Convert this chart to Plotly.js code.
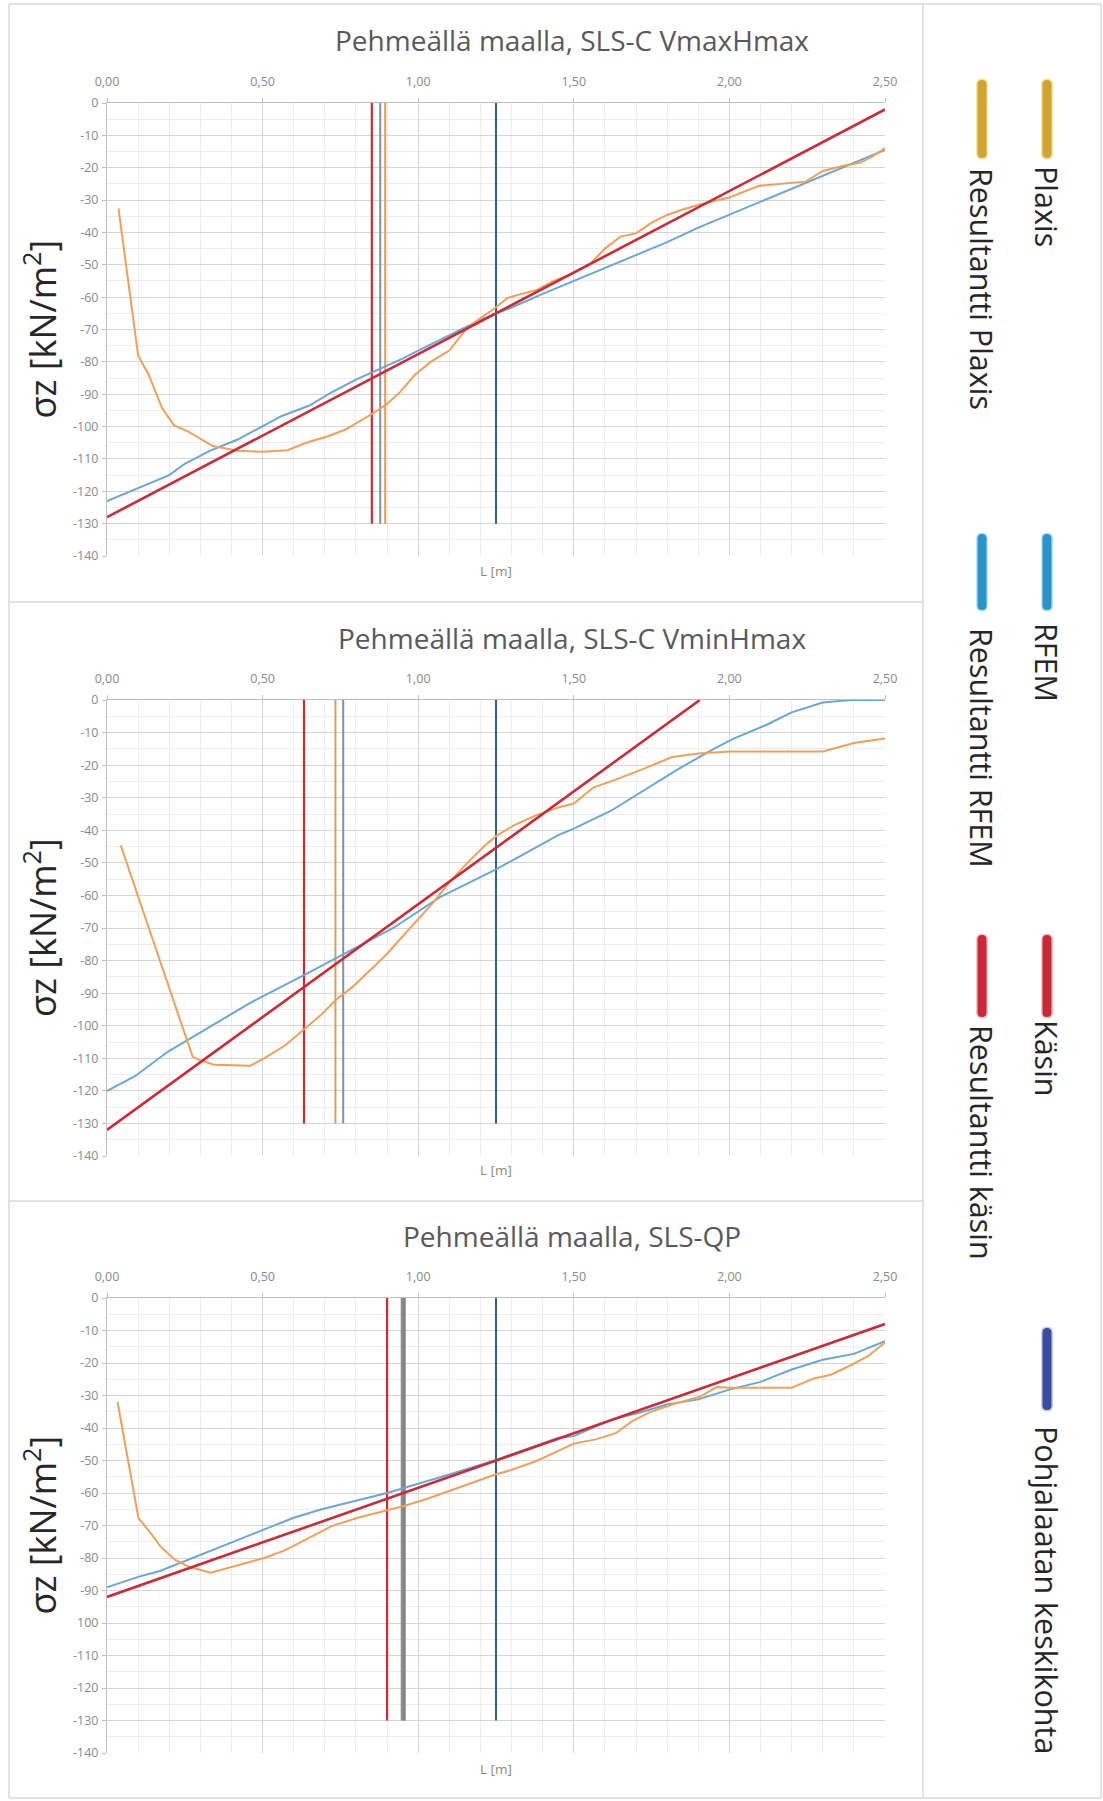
<!DOCTYPE html>
<html><head><meta charset="utf-8">
<script src="https://cdn.plot.ly/plotly-3.0.1.min.js"></script>
<style>html,body{margin:0;padding:0;background:#fff;} #chart{width:1103px;height:1801px;}</style>
</head><body><div id="chart"></div>
<script>
// ---------------- DATA ----------------
const chartTitles = ["Pehmeällä maalla, SLS-C VmaxHmax", "Pehmeällä maalla, SLS-C VminHmax", "Pehmeällä maalla, SLS-QP"];
const xAxisTitle = "L [m]";
const yAxisTitle = "σz [kN/m<sup>2</sup>]";
const xTickVals = [0, 0.5, 1, 1.5, 2, 2.5];
const xTickText = ["0,00", "0,50", "1,00", "1,50", "2,00", "2,50"];
const yTickVals = [0, -10, -20, -30, -40, -50, -60, -70, -80, -90, -100, -110, -120, -130, -140];
const yTickTextA = ["0", "-10", "-20", "-30", "-40", "-50", "-60", "-70", "-80", "-90", "-100", "-110", "-120", "-130", "-140"];
const yTickTextC = ["0", "-10", "-20", "-30", "-40", "-50", "-60", "-70", "-80", "-90", "100", "-110", "-120", "-130", "-140"];

// Chart 1: SLS-C VmaxHmax
const plaxisX1 = [0.037,0.10,0.134,0.177,0.215,0.26,0.34,0.42,0.50,0.58,0.64,0.71,0.765,0.81,0.857,0.90,0.94,0.99,1.04,1.10,1.157,1.20,1.245,1.286,1.32,1.38,1.43,1.50,1.55,1.60,1.65,1.70,1.75,1.80,1.85,1.92,2.0,2.095,2.16,2.245,2.30,2.37,2.42,2.46,2.5];
const plaxisY1 = [-32.6,-78,-84,-94.3,-99.6,-101.5,-106,-107.5,-107.8,-107.3,-105,-103,-101,-98.4,-95.8,-93,-89.5,-84,-80,-76.5,-69.5,-66.5,-63.5,-60.3,-59.3,-57.8,-55.2,-52.5,-50,-45,-41.3,-40.3,-37,-34.6,-32.9,-31,-29.2,-25.6,-25,-24.3,-21,-19.3,-18.5,-16.5,-14];
const rfemX1 = [0,0.1,0.2,0.25,0.33,0.42,0.5,0.56,0.65,0.72,0.8,0.88,0.95,1.0,1.1,1.2,1.25,1.3,1.4,1.5,1.6,1.7,1.8,1.9,2.0,2.1,2.2,2.3,2.4,2.5];
const rfemY1 = [-123,-119,-115,-111.5,-107.5,-104,-100,-96.8,-93.5,-89.5,-85.5,-82,-79,-76.5,-71.8,-67,-65,-63.2,-59,-55,-51,-47,-43,-38.5,-34.5,-30.5,-26.5,-22.5,-18.5,-14.5];
const kasinX1 = [0, 2.5];
const kasinY1 = [-128, -2];

// Chart 2: SLS-C VminHmax
const plaxisX2 = [0.044,0.275,0.295,0.344,0.46,0.505,0.573,0.633,0.69,0.734,0.79,0.894,0.975,1.05,1.10,1.158,1.216,1.25,1.307,1.376,1.45,1.50,1.564,1.63,1.72,1.816,1.90,2.0,2.3,2.4,2.5];
const plaxisY2 = [-44.6,-109.5,-110.5,-112,-112.3,-110,-106,-101,-96.5,-92.2,-88,-78.5,-70,-62,-56,-50,-44.5,-41.8,-38.5,-35.5,-33,-31.8,-26.8,-24.6,-21.3,-17.5,-16.4,-15.8,-15.8,-13.2,-11.8];
const rfemX2 = [0,0.09,0.195,0.3,0.46,0.633,0.76,0.92,1.07,1.25,1.45,1.5,1.62,1.72,1.83,1.95,2.01,2.12,2.2,2.3,2.39,2.5];
const rfemY2 = [-120,-115.5,-108,-102,-93,-84.5,-78,-70,-60.5,-52,-41.5,-39.5,-34,-28,-21.5,-15,-12,-7.6,-3.8,-0.8,0,0];
const kasinX2 = [0, 1.905];
const kasinY2 = [-132, 0];

// Chart 3: SLS-QP
const plaxisX3 = [0.034,0.101,0.138,0.172,0.218,0.264,0.333,0.40,0.505,0.573,0.665,0.722,0.803,0.90,0.954,1.032,1.147,1.248,1.296,1.376,1.44,1.50,1.57,1.635,1.689,1.743,1.819,1.905,1.959,2.0,2.2,2.23,2.27,2.326,2.39,2.445,2.5];
const plaxisY3 = [-32,-67.7,-72,-76.5,-80.5,-82.7,-84.5,-82.7,-80,-77.6,-73,-70.2,-67.7,-65.3,-64,-61.7,-57.7,-54.3,-53,-50.3,-47.5,-44.8,-43.5,-41.6,-37.8,-35.2,-32.7,-30.4,-27.4,-27.6,-27.6,-26.4,-24.8,-23.6,-20.7,-17.9,-13.7];
const rfemX3 = [0,0.1,0.17,0.3,0.39,0.5,0.6,0.69,0.9,1.1,1.25,1.45,1.5,1.62,1.71,1.8,1.9,2.0,2.1,2.2,2.3,2.4,2.5];
const rfemY3 = [-89,-85.8,-84,-79,-75.5,-71.5,-67.6,-65,-60,-54.3,-49.8,-43,-42.5,-37.5,-35.3,-32.8,-31.2,-28.2,-25.8,-22,-19,-17.2,-13.3];
const kasinX3 = [0, 2.5];
const kasinY3 = [-92, -8];

// Resultant positions per chart [chart1, chart2, chart3]
const resultantPlaxis = [0.894, 0.734, 0.951];
const resultantRfem = [0.878, 0.759, 0.955];
const resultantKasin = [0.851, 0.633, 0.900];
const slabCenter = [1.25, 1.25, 1.25];
const markerSpan = [0, -130];

// Legend
const legendRight = ["Plaxis", "RFEM", "Käsin", "Pohjalaatan keskikohta"];
const legendLeft = ["Resultantti Plaxis", "Resultantti RFEM", "Resultantti käsin"];

// ---------------- STYLE ----------------
const W = 1103, H = 1801;
const C = {
  plaxis: '#EFA15B', rfem: '#6CA6D8', kasin: '#CB2B37',
  resPlaxis: '#D7A05E', resRfem: '#7B93AE', resKasin: '#D12A33', center: '#315E8D',
  grid: '#D6D6D6', minor: '#EDEDED', axis: '#BFBFBF', tick: '#8A8A8A', text: '#595959'
};
const px = v => v / W;
const py = v => 1 - v / H;
const plotLeft = 107, plotRight = 885;
const plotTB = [[103, 556], [700, 1156], [1298, 1753]];
const titleY = [40, 638, 1236];
const xTitleY = [571, 1170, 1769];

const series = [
  {px: plaxisX1, py: plaxisY1, rx: rfemX1, ry: rfemY1, kx: kasinX1, ky: kasinY1},
  {px: plaxisX2, py: plaxisY2, rx: rfemX2, ry: rfemY2, kx: kasinX2, ky: kasinY2},
  {px: plaxisX3, py: plaxisY3, rx: rfemX3, ry: rfemY3, kx: kasinX3, ky: kasinY3}
];

const traces = [];
const layout = {
  width: W, height: H, margin: {l: 0, r: 0, t: 0, b: 0},
  paper_bgcolor: '#fff', plot_bgcolor: '#fff', showlegend: false,
  font: {family: 'Open Sans, sans-serif', color: C.text},
  annotations: [], shapes: []
};

series.forEach((s, i) => {
  const n = i === 0 ? '' : String(i + 1);
  const xa = 'x' + n, ya = 'y' + n;
  const vline = (x, color, width) => traces.push({
    x: [x, x], y: markerSpan, xaxis: xa, yaxis: ya, mode: 'lines',
    line: {color: color, width: width}, hoverinfo: 'skip'
  });
  vline(slabCenter[i], C.center, 2);
  if (i === 2) {
    vline(resultantPlaxis[i], '#8E8E8E', 4.5);
    vline(resultantRfem[i], '#858585', 3);
  } else {
    vline(resultantPlaxis[i], C.resPlaxis, 2);
    vline(resultantRfem[i], C.resRfem, 2);
  }
  vline(resultantKasin[i], C.resKasin, 2.2);
  traces.push({x: s.rx, y: s.ry, xaxis: xa, yaxis: ya, mode: 'lines', line: {color: C.rfem, width: 2}});
  traces.push({x: s.px, y: s.py, xaxis: xa, yaxis: ya, mode: 'lines', line: {color: C.plaxis, width: 2}});
  traces.push({x: s.kx, y: s.ky, xaxis: xa, yaxis: ya, mode: 'lines', line: {color: C.kasin, width: 2.6}});

  const [t, b] = plotTB[i];
  layout['xaxis' + n] = {
    domain: [px(plotLeft), px(plotRight)], anchor: ya, side: 'top', range: [0, 2.5],
    tickmode: 'array', tickvals: xTickVals, ticktext: xTickText,
    ticks: 'outside', ticklen: 4, tickcolor: C.axis, ticklabelstandoff: 7,
    tickfont: {size: 12.5, color: C.tick}, showline: true, linecolor: C.axis, linewidth: 1,
    showgrid: true, gridcolor: C.grid, gridwidth: 1, zeroline: false,
    minor: {tickmode: 'linear', tick0: 0, dtick: 0.1, showgrid: true, gridcolor: C.minor, gridwidth: 1, ticks: ''},
    fixedrange: true
  };
  layout['yaxis' + n] = {
    domain: [py(b), py(t)], anchor: xa, range: [-140, 0],
    tickmode: 'array', tickvals: yTickVals, ticktext: i === 2 ? yTickTextC : yTickTextA,
    ticks: 'outside', ticklen: 4, tickcolor: C.axis, ticklabelstandoff: 1,
    tickfont: {size: 12.5, color: C.tick}, showline: true, linecolor: C.axis, linewidth: 1,
    showgrid: true, gridcolor: C.grid, gridwidth: 1, zeroline: false,
    minor: {tickmode: 'linear', tick0: 0, dtick: 5, showgrid: true, gridcolor: C.minor, gridwidth: 1, ticks: ''},
    fixedrange: true
  };
  layout.annotations.push({
    text: chartTitles[i], xref: 'paper', yref: 'paper', x: px(572), y: py(titleY[i]),
    xanchor: 'center', yanchor: 'middle', showarrow: false,
    font: {size: 28, color: '#595959', family: 'Open Sans, sans-serif'}
  });
  layout.annotations.push({
    text: xAxisTitle, xref: 'paper', yref: 'paper', x: px(496), y: py(xTitleY[i]),
    xanchor: 'center', yanchor: 'middle', showarrow: false,
    font: {size: 13.5, color: C.tick}
  });
  layout.annotations.push({
    text: yAxisTitle, xref: 'paper', yref: 'paper', x: px(40), y: py((t + b) / 2),
    xanchor: 'center', yanchor: 'middle', showarrow: false, textangle: -90,
    font: {size: 36, color: '#262626'}
  });
});

// frame lines
const frame = (x0, y0, x1, y1) => layout.shapes.push({
  type: 'line', xref: 'paper', yref: 'paper', x0: px(x0), y0: py(y0), x1: px(x1), y1: py(y1),
  line: {color: '#D9D9D9', width: 1.5}
});
frame(9, 4, 1101, 4);
frame(9, 4, 9, 1798);
frame(923, 4, 923, 1798);
frame(9, 602, 923, 602);
frame(9, 1201, 923, 1201);
frame(9, 1798, 1101, 1798);
frame(1101, 4, 1101, 1798);

// legend symbols (rounded bars) + rotated labels
function bar(cx, y1, y2, color, w) {
  const r = w / 2;
  const X = v => px(v), Y = v => py(v);
  const p = `M ${X(cx - r)},${Y(y1 + r)} L ${X(cx - r)},${Y(y2 - r)} Q ${X(cx - r)},${Y(y2)} ${X(cx)},${Y(y2)} Q ${X(cx + r)},${Y(y2)} ${X(cx + r)},${Y(y2 - r)} L ${X(cx + r)},${Y(y1 + r)} Q ${X(cx + r)},${Y(y1)} ${X(cx)},${Y(y1)} Q ${X(cx - r)},${Y(y1)} ${X(cx - r)},${Y(y1 + r)} Z`;
  layout.shapes.push({type: 'path', xref: 'paper', yref: 'paper', path: p, fillcolor: color, line: {width: 0}});
}
const legRX = 1047, legLX = 982;
const legColors = ['#CFA52F', '#2A93C9', '#C82838', '#3B4BA0'];
const legGlow = ['#F3E3A8', '#BDE3F5', '#F2C4C8', '#C9CDEA'];
const symY = [[80, 158], [534, 610], [935, 1017], [1328, 1410]];
const rightTextY = [206, 662, 1058, 1590];
const leftTextY = [289, 748, 1142];
legendRight.forEach((lab, k) => {
  bar(legRX, symY[k][0] - 1.5, symY[k][1] + 1.5, legGlow[k], 12);
  bar(legRX, symY[k][0], symY[k][1], legColors[k], 9);
  layout.annotations.push({
    text: lab, xref: 'paper', yref: 'paper', x: px(legRX), y: py(rightTextY[k]),
    xanchor: 'center', yanchor: 'middle', showarrow: false, textangle: 90,
    font: {size: 30.5, color: '#262626'}
  });
});
legendLeft.forEach((lab, k) => {
  bar(legLX, symY[k][0] - 1.5, symY[k][1] + 1.5, legGlow[k], 12);
  bar(legLX, symY[k][0], symY[k][1], legColors[k], 9);
  layout.annotations.push({
    text: lab, xref: 'paper', yref: 'paper', x: px(legLX), y: py(leftTextY[k]),
    xanchor: 'center', yanchor: 'middle', showarrow: false, textangle: 90,
    font: {size: 30.5, color: '#262626'}
  });
});

Plotly.newPlot('chart', traces, layout, {staticPlot: true, displayModeBar: false});
</script></body></html>
